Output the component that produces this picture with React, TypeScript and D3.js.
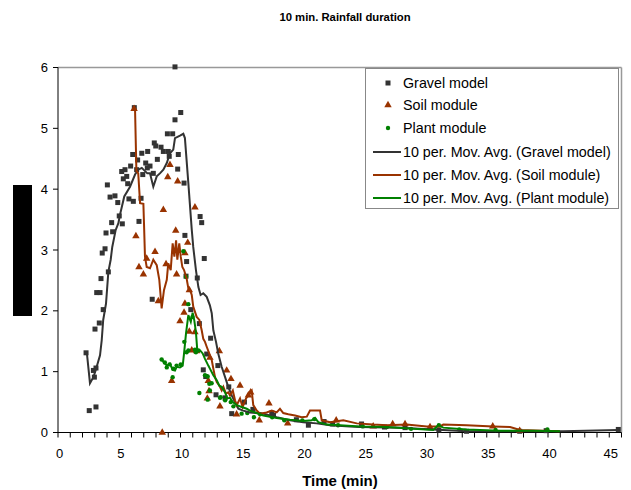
import React from "react";
import * as d3 from "d3";

// ---- data (time in min, value) ----
const gravelT = [2.29,2.55,3.10,2.89,3.10,2.97,3.02,3.37,3.69,3.16,3.43,3.51,4.11,3.61,3.84,3.92,4.46,4.38,5.25,5.00,6.61,4.25,4.65,4.88,5.79,6.15,6.78,4.03,5.69,5.20,5.47,5.61,5.33,5.93,6.42,6.92,7.29,7.51,7.78,7.16,6.50,6.10,6.84,7.32,7.86,7.98,8.41,8.60,9.00,9.08,8.11,9.82,9.77,8.93,9.36,9.55,10.02,6.23,9.55,10.29,10.36,11.60,11.73,11.94,10.50,10.45,11.37,7.69,10.84,11.54,12.14,11.86,12.06,12.46,13.05,12.90,13.64,13.94,14.18,17.45,15.22,15.91,17.59,19.46,20.44,21.72,22.42,24.78,26.65,28.33,31.09,33.35,37.69,39.85,45.74];
const gravelV = [1.31,0.36,0.42,1.02,1.06,0.91,1.70,1.80,2.02,2.30,2.30,2.53,2.64,2.95,3.02,3.28,3.30,3.45,3.43,3.56,3.47,3.87,3.89,3.78,3.84,3.80,3.85,4.07,4.09,4.29,4.32,4.21,4.17,4.38,4.32,4.24,4.35,4.38,4.26,4.43,4.48,4.57,4.59,4.62,4.76,4.71,4.69,4.62,4.62,4.54,4.49,4.57,4.33,4.91,4.91,5.14,5.26,5.34,6.01,4.10,3.24,3.55,3.45,2.86,2.81,2.57,2.54,2.19,2.02,1.79,1.29,1.03,0.92,1.55,1.10,0.62,0.57,0.75,0.31,0.32,0.50,0.38,0.28,0.21,0.12,0.18,0.14,0.14,0.09,0.08,0.04,0.02,0.02,0.03,0.05];

const soilT = [6.21,6.36,6.61,6.97,7.24,7.92,8.19,8.51,8.60,8.82,8.96,9.14,9.28,9.61,9.68,9.77,9.96,10.29,10.36,10.36,10.59,10.72,10.72,10.92,11.18,11.18,11.32,12.19,12.27,12.33,12.40,13.17,13.22,13.77,14.12,14.58,14.86,15.54,15.73,16.43,17.22,18.75,22.71,25.73,27.32,28.33,30.37,35.49,37.69];
const soilV = [5.32,3.23,2.72,2.60,2.86,2.97,2.16,0.00,3.66,2.77,4.20,4.40,0.85,3.32,2.60,4.13,1.83,1.97,2.95,2.12,3.12,2.34,1.66,1.35,3.70,1.65,1.34,0.56,0.85,0.68,1.23,1.34,0.43,1.02,0.88,0.30,0.77,0.61,0.66,0.20,0.48,0.15,0.20,0.10,0.14,0.14,0.09,0.10,0.03];

const plantT = [8.46,8.72,8.88,9.11,9.36,9.41,9.68,10.02,10.23,10.31,10.45,10.50,10.64,10.64,10.98,11.18,11.26,11.46,11.54,12.00,12.22,12.22,12.35,12.54,12.40,13.22,13.28,13.64,14.10,14.32,14.99,15.45,15.99,16.50,17.48,18.47,19.95,20.93,22.86,24.88,26.85,28.82,31.09,32.76,35.72,39.95];
const plantV = [1.20,1.15,1.07,1.12,0.91,1.05,1.10,1.12,2.98,1.49,2.56,1.32,2.11,1.35,1.90,1.36,1.32,1.35,0.65,0.94,0.54,0.92,0.80,0.81,0.69,0.57,0.58,0.53,0.50,0.43,0.31,0.32,0.25,0.30,0.25,0.20,0.20,0.22,0.12,0.10,0.09,0.06,0.12,0.05,0.04,0.05];

// 10 per. moving averages (as drawn)
const gravelAvgT = [2.36,2.61,2.89,3.07,3.43,3.57,3.69,3.92,4.11,4.30,4.43,4.71,4.93,5.06,5.41,5.88,6.29,6.55,6.84,7.29,7.51,7.78,8.06,8.32,8.60,8.88,9.14,9.41,9.55,9.96,10.23,10.36,10.64,10.92,11.04,11.26,11.46,11.64,11.86,12.14,12.40,12.55,12.68,12.90,13.08,13.36,13.64,13.90,14.18,14.45,14.72,15.12,15.67,16.76,17.85,18.93,20.02,21.11,22.21,23.83,24.65,27.92,33.36,38.78,41.22,45.74];
const gravelAvgV = [1.30,0.81,0.91,1.02,1.27,1.52,1.85,2.12,2.64,2.84,3.05,3.33,3.44,3.58,3.88,4.04,4.24,4.32,4.35,4.26,4.26,4.04,4.21,4.26,4.32,4.43,4.59,4.65,4.84,4.88,4.91,4.84,4.10,3.33,3.05,2.67,2.39,2.26,2.29,2.23,2.09,1.96,1.68,1.49,1.30,1.08,0.91,0.75,0.61,0.50,0.39,0.36,0.33,0.31,0.25,0.20,0.17,0.15,0.12,0.10,0.09,0.08,0.02,0.02,0.02,0.04];

const soilAvgT = [6.21,6.29,6.40,6.55,6.70,6.97,7.02,7.10,7.24,7.51,7.78,8.06,8.27,8.46,8.65,8.88,9.00,9.20,9.36,9.50,9.64,9.74,9.90,10.02,10.15,10.29,10.50,10.64,10.78,10.92,11.04,11.32,11.54,11.73,11.86,12.00,12.14,12.55,12.68,12.82,12.96,13.17,13.36,13.50,13.71,13.90,14.04,14.27,14.45,14.59,14.86,15.07,15.35,15.54,15.67,15.81,15.94,16.22,16.49,17.03,17.45,17.85,18.12,18.39,18.80,19.35,19.89,20.31,20.57,21.39,21.53,22.21,23.29,24.39,25.73,26.83,28.46,30.10,31.18,31.45,33.36,35.54,36.90,37.72,40.94];
const soilAvgV = [5.32,5.31,4.30,4.26,3.77,3.76,3.44,2.89,2.72,2.70,2.84,2.75,2.51,2.04,2.34,2.51,2.78,2.67,3.11,2.89,3.16,2.84,3.11,2.89,2.72,2.67,2.53,2.37,2.34,2.26,2.07,1.90,1.85,1.68,1.54,1.49,1.41,1.19,1.05,0.91,0.83,0.77,0.69,0.75,0.64,0.66,0.61,0.69,0.53,0.45,0.56,0.42,0.56,0.61,0.66,0.69,0.45,0.36,0.31,0.33,0.36,0.33,0.39,0.32,0.30,0.28,0.25,0.26,0.36,0.36,0.20,0.17,0.20,0.15,0.13,0.12,0.13,0.10,0.10,0.13,0.12,0.10,0.09,0.04,0.02];

const plantAvgT = [8.46,8.88,9.14,9.36,9.55,9.69,9.96,10.18,10.29,10.45,10.64,10.84,10.99,11.12,11.26,11.37,11.60,11.81,12.00,12.27,12.40,12.68,12.96,13.17,13.36,13.64,13.82,14.04,14.27,14.59,14.99,15.41,15.67,16.76,17.85,18.93,20.02,20.71,20.98,21.25,21.93,23.02,24.65,26.83,29.01,30.63,31.05,31.45,33.36,36.08,38.80,40.98];
const plantAvgV = [1.20,1.10,1.13,1.03,1.02,1.08,1.07,1.10,1.30,1.63,1.93,1.82,1.97,1.85,1.65,1.35,1.35,1.30,1.21,1.10,1.05,0.94,0.86,0.77,0.75,0.66,0.56,0.57,0.50,0.45,0.42,0.39,0.36,0.28,0.24,0.21,0.19,0.20,0.24,0.17,0.13,0.12,0.10,0.09,0.06,0.04,0.12,0.08,0.05,0.03,0.03,0.02];

const xTickLabels = [0, 5, 10, 15, 20, 25, 30, 35, 40, 45];
const yTickLabels = [0, 1, 2, 3, 4, 5, 6];
const legendLabels = [
  "Gravel model",
  "Soil module",
  "Plant module",
  "10 per. Mov. Avg. (Gravel model)",
  "10 per. Mov. Avg. (Soil module)",
  "10 per. Mov. Avg. (Plant module)",
];
const titleText = "10 min. Rainfall duration";
const xTitle = "Time (min)";

const GRAY = "#333333";
const BROWN = "#993300";
const GREEN = "#008000";
const FONT = "Liberation Sans, Arial, sans-serif";

const W = 631, H = 490;
const x = d3.scaleLinear().domain([0, 46]).range([58, 621.5]);
const y = d3.scaleLinear().domain([0, 6]).range([432.5, 67.5]);

const zip = (a: number[], b: number[]) => a.map((t, i) => [t, b[i]] as [number, number]);
const line = d3.line<[number, number]>().x((d) => x(d[0])).y((d) => y(d[1]));
const tri = d3.symbol().type(d3.symbolTriangle).size(24)();

export default function App() {
  const minor = d3.range(0, 47, 1);
  const legendY = [83, 105, 128, 152, 175, 198];
  return (
    <div style={{ position: "absolute", left: 0, top: 0 }}>
      <svg width={W} height={H} style={{ display: "block", fontFamily: FONT }}>
        <rect width={W} height={H} fill="#fff" />
        <text x={345} y={21} textAnchor="middle" fontSize={11.3} fontWeight="bold">{titleText}</text>
        {/* plot border */}
        <line x1={x(0)} x2={x(46)} y1={y(6)} y2={y(6)} stroke="#999" strokeWidth={1.5} />
        <line x1={x(46)} x2={x(46)} y1={y(6)} y2={y(0)} stroke="#999" strokeWidth={1.5} />
        {/* axes */}
        <line x1={x(0)} x2={x(0)} y1={y(6)} y2={y(0)} stroke="#000" strokeWidth={1} />
        <line x1={x(0)} x2={x(46)} y1={y(0)} y2={y(0)} stroke="#000" strokeWidth={1} />
        {yTickLabels.map((v) => (
          <g key={"y" + v}>
            <line x1={x(0) - 5} x2={x(0)} y1={y(v)} y2={y(v)} stroke="#000" />
            <text x={x(0) - 10} y={y(v) + 4.5} textAnchor="end" fontSize={13}>{v}</text>
          </g>
        ))}
        {minor.map((t) => (
          <line key={"m" + t} x1={x(t)} x2={x(t)} y1={y(0)} y2={y(0) + 5} stroke="#000" />
        ))}
        {xTickLabels.map((t) => (
          <text key={"x" + t} x={x(t) + 1.5} y={458} textAnchor="middle" fontSize={13}>{t}</text>
        ))}
        <text x={340} y={486} textAnchor="middle" fontSize={15} fontWeight="bold">{xTitle}</text>
        {/* black box over y title */}
        <rect x={13} y={185} width={19} height={131} fill="#000" />

        {/* markers */}
        {zip(gravelT, gravelV).map((d, i) => (
          <rect key={"g" + i} x={x(d[0]) - 2.5} y={y(d[1]) - 2.5} width={5} height={5} fill={GRAY} />
        ))}
        {zip(soilT, soilV).map((d, i) => (
          <path key={"s" + i} d={tri || ""} transform={`translate(${x(d[0])},${y(d[1])})`} fill={BROWN} />
        ))}
        {zip(plantT, plantV).map((d, i) => (
          <circle key={"p" + i} cx={x(d[0])} cy={y(d[1])} r={2.2} fill={GREEN} />
        ))}
        {/* moving averages */}
        <path d={line(zip(gravelAvgT, gravelAvgV)) || ""} fill="none" stroke={GRAY} strokeWidth={2} />
        <path d={line(zip(soilAvgT, soilAvgV)) || ""} fill="none" stroke={BROWN} strokeWidth={2} />
        <path d={line(zip(plantAvgT, plantAvgV)) || ""} fill="none" stroke={GREEN} strokeWidth={2} />

        {/* legend */}
        <rect x={365.5} y={68.5} width={253} height={140} fill="#fff" stroke="#888" strokeWidth={1} />
        {legendLabels.map((lab, i) => {
          const ly = legendY[i];
          let sym = null;
          if (i === 0) sym = <rect x={388 - 2.5} y={ly - 2.5} width={5} height={5} fill={GRAY} />;
          else if (i === 1) sym = <path d={tri || ""} transform={`translate(388,${ly})`} fill={BROWN} />;
          else if (i === 2) sym = <circle cx={388} cy={ly} r={2.2} fill={GREEN} />;
          else {
            const c = [GRAY, BROWN, GREEN][i - 3];
            sym = <line x1={373} x2={401} y1={ly} y2={ly} stroke={c} strokeWidth={2} />;
          }
          return (
            <g key={"l" + i}>
              {sym}
              <text x={403} y={ly + 5} fontSize={14.3}>{lab}</text>
            </g>
          );
        })}
      </svg>
    </div>
  );
}
